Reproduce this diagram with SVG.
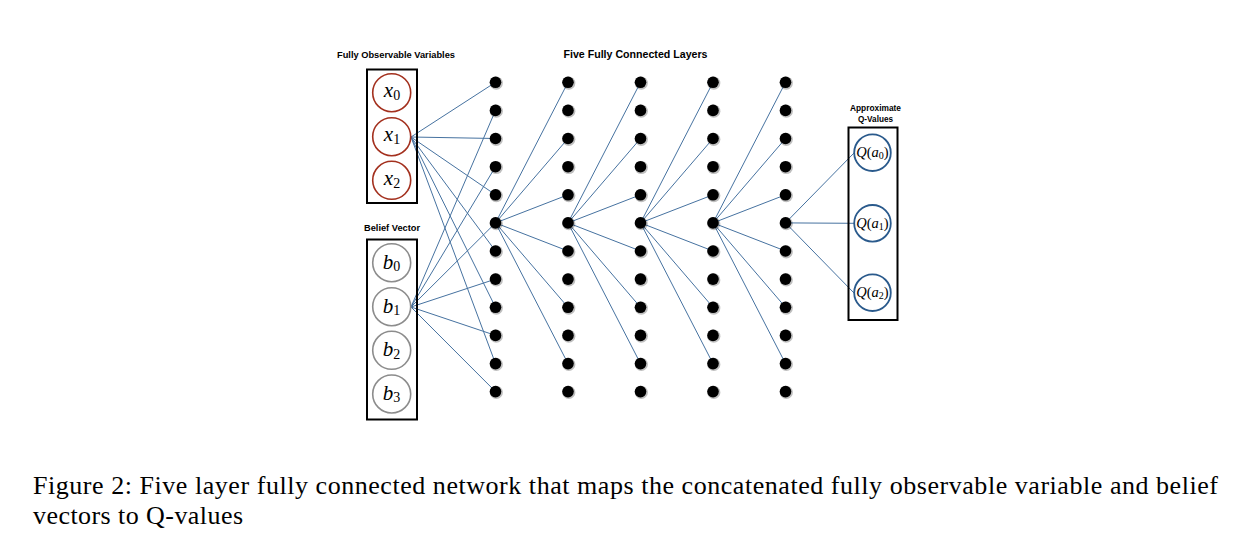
<svg xmlns="http://www.w3.org/2000/svg" xmlns:xlink="http://www.w3.org/1999/xlink" width="1250" height="540" viewBox="0 0 1250 540">
<style>
.hdr{font-family:"Liberation Sans",Arial,sans-serif;font-weight:bold;fill:#000}
.box{fill:none;stroke:#000;stroke-width:2}
.xc{fill:#fff;stroke:#a3301e;stroke-width:1.6}
.bc{fill:#fff;stroke:#8c8c8c;stroke-width:1.6}
.qc{fill:#fff;stroke:#2a5a8c;stroke-width:1.8}
.math{font-family:"Liberation Serif","Times New Roman",serif;fill:#000}
.it{font-style:italic}
.conn line{stroke:#4672a0;stroke-width:1}
.cap{font-family:"Liberation Serif","Times New Roman",serif;font-size:26px;fill:#000}
</style>
<defs>
<g id="dot"><circle cx="0.8" cy="0.8" r="6.6" fill="#000" opacity="0.25"/><circle cx="0" cy="0" r="5.8" fill="#000"/></g>
</defs>
<rect width="1250" height="540" fill="#fff"/>

<!-- headers -->
<text class="hdr" x="396" y="57.5" font-size="8.8" text-anchor="middle" textLength="118" lengthAdjust="spacingAndGlyphs">Fully Observable Variables</text>
<text class="hdr" x="635.5" y="58" font-size="10" text-anchor="middle" textLength="144" lengthAdjust="spacingAndGlyphs">Five Fully Connected Layers</text>
<text class="hdr" x="392" y="231" font-size="8.8" text-anchor="middle" textLength="56" lengthAdjust="spacingAndGlyphs">Belief Vector</text>
<text class="hdr" x="875.5" y="110.5" font-size="8.6" text-anchor="middle" textLength="51" lengthAdjust="spacingAndGlyphs">Approximate</text>
<text class="hdr" x="875.5" y="121.5" font-size="8.6" text-anchor="middle" textLength="35" lengthAdjust="spacingAndGlyphs">Q-Values</text>

<!-- connectors -->
<g id="connectors" class="conn">
<line x1="411" y1="137" x2="495.5" y2="82.3"/>
<line x1="411" y1="137" x2="495.5" y2="138.5"/>
<line x1="411" y1="137" x2="495.5" y2="194.8"/>
<line x1="411" y1="137" x2="495.5" y2="251"/>
<line x1="411" y1="137" x2="495.5" y2="307.3"/>
<line x1="411" y1="137" x2="495.5" y2="363.6"/>
<line x1="411" y1="307" x2="495.5" y2="110.4"/>
<line x1="411" y1="307" x2="495.5" y2="166.7"/>
<line x1="411" y1="307" x2="495.5" y2="222.9"/>
<line x1="411" y1="307" x2="495.5" y2="279.1"/>
<line x1="411" y1="307" x2="495.5" y2="335.4"/>
<line x1="411" y1="307" x2="495.5" y2="391.6"/>

<line x1="495.5" y1="222.9" x2="568" y2="82.3"/>
<line x1="495.5" y1="222.9" x2="568" y2="138.5"/>
<line x1="495.5" y1="222.9" x2="568" y2="194.8"/>
<line x1="495.5" y1="222.9" x2="568" y2="251"/>
<line x1="495.5" y1="222.9" x2="568" y2="307.3"/>
<line x1="495.5" y1="222.9" x2="568" y2="363.6"/>

<line x1="568" y1="222.9" x2="640.5" y2="82.3"/>
<line x1="568" y1="222.9" x2="640.5" y2="138.5"/>
<line x1="568" y1="222.9" x2="640.5" y2="194.8"/>
<line x1="568" y1="222.9" x2="640.5" y2="251"/>
<line x1="568" y1="222.9" x2="640.5" y2="307.3"/>
<line x1="568" y1="222.9" x2="640.5" y2="363.6"/>

<line x1="640.5" y1="222.9" x2="713" y2="82.3"/>
<line x1="640.5" y1="222.9" x2="713" y2="138.5"/>
<line x1="640.5" y1="222.9" x2="713" y2="194.8"/>
<line x1="640.5" y1="222.9" x2="713" y2="251"/>
<line x1="640.5" y1="222.9" x2="713" y2="307.3"/>
<line x1="640.5" y1="222.9" x2="713" y2="363.6"/>

<line x1="713" y1="222.9" x2="785.5" y2="82.3"/>
<line x1="713" y1="222.9" x2="785.5" y2="138.5"/>
<line x1="713" y1="222.9" x2="785.5" y2="194.8"/>
<line x1="713" y1="222.9" x2="785.5" y2="251"/>
<line x1="713" y1="222.9" x2="785.5" y2="307.3"/>
<line x1="713" y1="222.9" x2="785.5" y2="363.6"/>

<line x1="785.5" y1="222.9" x2="854" y2="153"/>
<line x1="785.5" y1="222.9" x2="854" y2="223.3"/>
<line x1="785.5" y1="222.9" x2="854" y2="293"/>
</g>

<!-- input: fully observable variables -->
<g id="fully-observable">
<rect class="box" x="367" y="69.5" width="50" height="133.5"/>
<g id="x0"><circle class="xc" cx="391.7" cy="92.7" r="19"/><text class="math" x="392" y="97" text-anchor="middle"><tspan class="it" font-size="21">x</tspan><tspan font-size="14" dy="3">0</tspan></text></g>
<g id="x1"><circle class="xc" cx="391.7" cy="136.7" r="19"/><text class="math" x="392" y="141" text-anchor="middle"><tspan class="it" font-size="21">x</tspan><tspan font-size="14" dy="3">1</tspan></text></g>
<g id="x2"><circle class="xc" cx="391.7" cy="180.3" r="19"/><text class="math" x="392" y="184.6" text-anchor="middle"><tspan class="it" font-size="21">x</tspan><tspan font-size="14" dy="3">2</tspan></text></g>
</g>

<!-- input: belief vector -->
<g id="belief-vector">
<rect class="box" x="367" y="239.5" width="50" height="180"/>
<g id="b0"><circle class="bc" cx="391.7" cy="262.7" r="19"/><text class="math" x="391.5" y="268.5" text-anchor="middle"><tspan class="it" font-size="21">b</tspan><tspan font-size="14" dy="2.5">0</tspan></text></g>
<g id="b1"><circle class="bc" cx="391.7" cy="306.7" r="19"/><text class="math" x="391.5" y="312.5" text-anchor="middle"><tspan class="it" font-size="21">b</tspan><tspan font-size="14" dy="2.5">1</tspan></text></g>
<g id="b2"><circle class="bc" cx="391.7" cy="350.3" r="19"/><text class="math" x="391.5" y="356.1" text-anchor="middle"><tspan class="it" font-size="21">b</tspan><tspan font-size="14" dy="2.5">2</tspan></text></g>
<g id="b3"><circle class="bc" cx="391.7" cy="394" r="19"/><text class="math" x="391.5" y="399.8" text-anchor="middle"><tspan class="it" font-size="21">b</tspan><tspan font-size="14" dy="2.5">3</tspan></text></g>
</g>

<!-- hidden layers -->
<g id="layer1">
<use xlink:href="#dot" x="495.5" y="82.3"/><use xlink:href="#dot" x="495.5" y="110.4"/><use xlink:href="#dot" x="495.5" y="138.5"/><use xlink:href="#dot" x="495.5" y="166.7"/><use xlink:href="#dot" x="495.5" y="194.8"/><use xlink:href="#dot" x="495.5" y="222.9"/><use xlink:href="#dot" x="495.5" y="251"/><use xlink:href="#dot" x="495.5" y="279.1"/><use xlink:href="#dot" x="495.5" y="307.3"/><use xlink:href="#dot" x="495.5" y="335.4"/><use xlink:href="#dot" x="495.5" y="363.6"/><use xlink:href="#dot" x="495.5" y="391.6"/>
</g>
<g id="layer2">
<use xlink:href="#dot" x="568" y="82.3"/><use xlink:href="#dot" x="568" y="110.4"/><use xlink:href="#dot" x="568" y="138.5"/><use xlink:href="#dot" x="568" y="166.7"/><use xlink:href="#dot" x="568" y="194.8"/><use xlink:href="#dot" x="568" y="222.9"/><use xlink:href="#dot" x="568" y="251"/><use xlink:href="#dot" x="568" y="279.1"/><use xlink:href="#dot" x="568" y="307.3"/><use xlink:href="#dot" x="568" y="335.4"/><use xlink:href="#dot" x="568" y="363.6"/><use xlink:href="#dot" x="568" y="391.6"/>
</g>
<g id="layer3">
<use xlink:href="#dot" x="640.5" y="82.3"/><use xlink:href="#dot" x="640.5" y="110.4"/><use xlink:href="#dot" x="640.5" y="138.5"/><use xlink:href="#dot" x="640.5" y="166.7"/><use xlink:href="#dot" x="640.5" y="194.8"/><use xlink:href="#dot" x="640.5" y="222.9"/><use xlink:href="#dot" x="640.5" y="251"/><use xlink:href="#dot" x="640.5" y="279.1"/><use xlink:href="#dot" x="640.5" y="307.3"/><use xlink:href="#dot" x="640.5" y="335.4"/><use xlink:href="#dot" x="640.5" y="363.6"/><use xlink:href="#dot" x="640.5" y="391.6"/>
</g>
<g id="layer4">
<use xlink:href="#dot" x="713" y="82.3"/><use xlink:href="#dot" x="713" y="110.4"/><use xlink:href="#dot" x="713" y="138.5"/><use xlink:href="#dot" x="713" y="166.7"/><use xlink:href="#dot" x="713" y="194.8"/><use xlink:href="#dot" x="713" y="222.9"/><use xlink:href="#dot" x="713" y="251"/><use xlink:href="#dot" x="713" y="279.1"/><use xlink:href="#dot" x="713" y="307.3"/><use xlink:href="#dot" x="713" y="335.4"/><use xlink:href="#dot" x="713" y="363.6"/><use xlink:href="#dot" x="713" y="391.6"/>
</g>
<g id="layer5">
<use xlink:href="#dot" x="785.5" y="82.3"/><use xlink:href="#dot" x="785.5" y="110.4"/><use xlink:href="#dot" x="785.5" y="138.5"/><use xlink:href="#dot" x="785.5" y="166.7"/><use xlink:href="#dot" x="785.5" y="194.8"/><use xlink:href="#dot" x="785.5" y="222.9"/><use xlink:href="#dot" x="785.5" y="251"/><use xlink:href="#dot" x="785.5" y="279.1"/><use xlink:href="#dot" x="785.5" y="307.3"/><use xlink:href="#dot" x="785.5" y="335.4"/><use xlink:href="#dot" x="785.5" y="363.6"/><use xlink:href="#dot" x="785.5" y="391.6"/>
</g>

<!-- output: Q-values -->
<g id="q-values">
<rect class="box" x="848.5" y="127.5" width="49" height="192.5"/>
<g id="q0"><circle class="qc" cx="872.5" cy="152.7" r="18.3"/><text class="math" x="872.5" y="157" text-anchor="middle" font-size="14.5"><tspan class="it">Q</tspan>(<tspan class="it">a</tspan><tspan font-size="10" dy="2">0</tspan><tspan dy="-2">)</tspan></text></g>
<g id="q1"><circle class="qc" cx="872.5" cy="223.3" r="18.3"/><text class="math" x="872.5" y="227.6" text-anchor="middle" font-size="14.5"><tspan class="it">Q</tspan>(<tspan class="it">a</tspan><tspan font-size="10" dy="2">1</tspan><tspan dy="-2">)</tspan></text></g>
<g id="q2"><circle class="qc" cx="872.5" cy="292.7" r="18.3"/><text class="math" x="872.5" y="297" text-anchor="middle" font-size="14.5"><tspan class="it">Q</tspan>(<tspan class="it">a</tspan><tspan font-size="10" dy="2">2</tspan><tspan dy="-2">)</tspan></text></g>
</g>

<!-- caption -->
<text class="cap" x="33" y="494" textLength="1185" lengthAdjust="spacing">Figure 2: Five layer fully connected network that maps the concatenated fully observable variable and belief</text>
<text class="cap" x="33" y="524" textLength="210" lengthAdjust="spacing">vectors to Q-values</text>
</svg>
